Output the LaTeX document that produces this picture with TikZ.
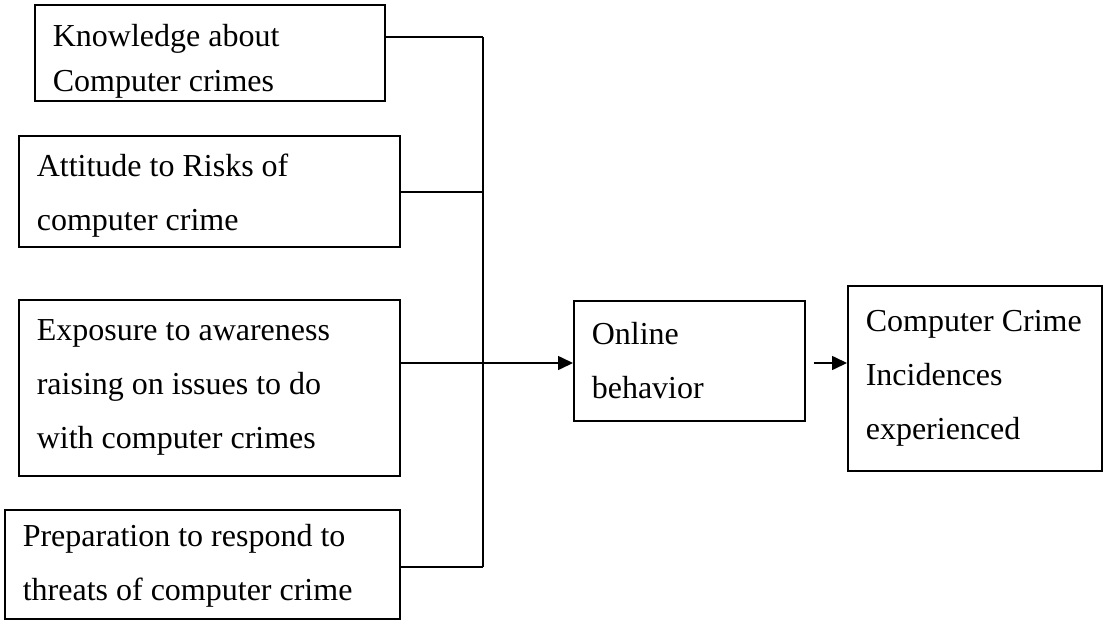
\documentclass[tikz,border=0pt]{standalone}
\usepackage{fontspec}
\setmainfont{Liberation Serif}
\usetikzlibrary{arrows.meta}
\tikzset{
blk/.style={
  draw,
  line width=0.8pt,
  anchor=north west,
  align=flush left,
  inner xsep=9pt,
  inner ysep=0pt,
  font=\fontsize{16}{27}\selectfont
},
link/.style={line width=0.8pt},
arr/.style={line width=0.8pt,-{Triangle[length=7.5pt,width=7pt]}},
}
\begin{document}
\begin{tikzpicture}[x=0.5pt,y=-0.5pt]
\useasboundingbox (0,0) rectangle (1106,621);
% the boxes
\node[blk, text width=157pt, minimum height=48pt, text height=20pt,
  font=\fontsize{16}{22.5}\selectfont] (know) at (34,4)
  {Knowledge about\\Computer crimes};
\node[blk, text width=172.5pt, minimum height=55.5pt, text height=16pt] (attit) at (18,135)
  {Attitude to Risks of\\computer crime};
\node[blk, text width=172.5pt, minimum height=88pt] (expo) at (18,299)
  {Exposure to awareness\\raising on issues to do\\with computer crimes};
\node[blk, text width=179.5pt, minimum height=54.5pt, text height=13pt] (prep) at (4,509)
  {Preparation to respond to\\threats of computer crime};
\node[blk, text width=97.5pt, minimum height=60pt] (online) at (573,300)
  {Online\\behavior};
\node[blk, text width=109pt, minimum height=92.5pt] (cc) at (847,285)
  {Computer~Crime\\Incidences\\experienced};
% the joints
\coordinate (j1) at (483,37);
\coordinate (j2) at (483,192);
\coordinate (j3) at (483,363);
\coordinate (j4) at (483,567);
% the trunk
\draw[link] (j1) -- (j4);
\foreach \b/\j in {know/j1,attit/j2,prep/j4}
{
  \draw[link] (\b.east |- \j) -- (\j);
}
% the arrows
\draw[arr] (expo.east |- j3) -- (online.west |- j3);
\draw[arr, shorten <=4pt] (online.east |- j3) -- (cc.west |- j3);
\end{tikzpicture}
\end{document}
